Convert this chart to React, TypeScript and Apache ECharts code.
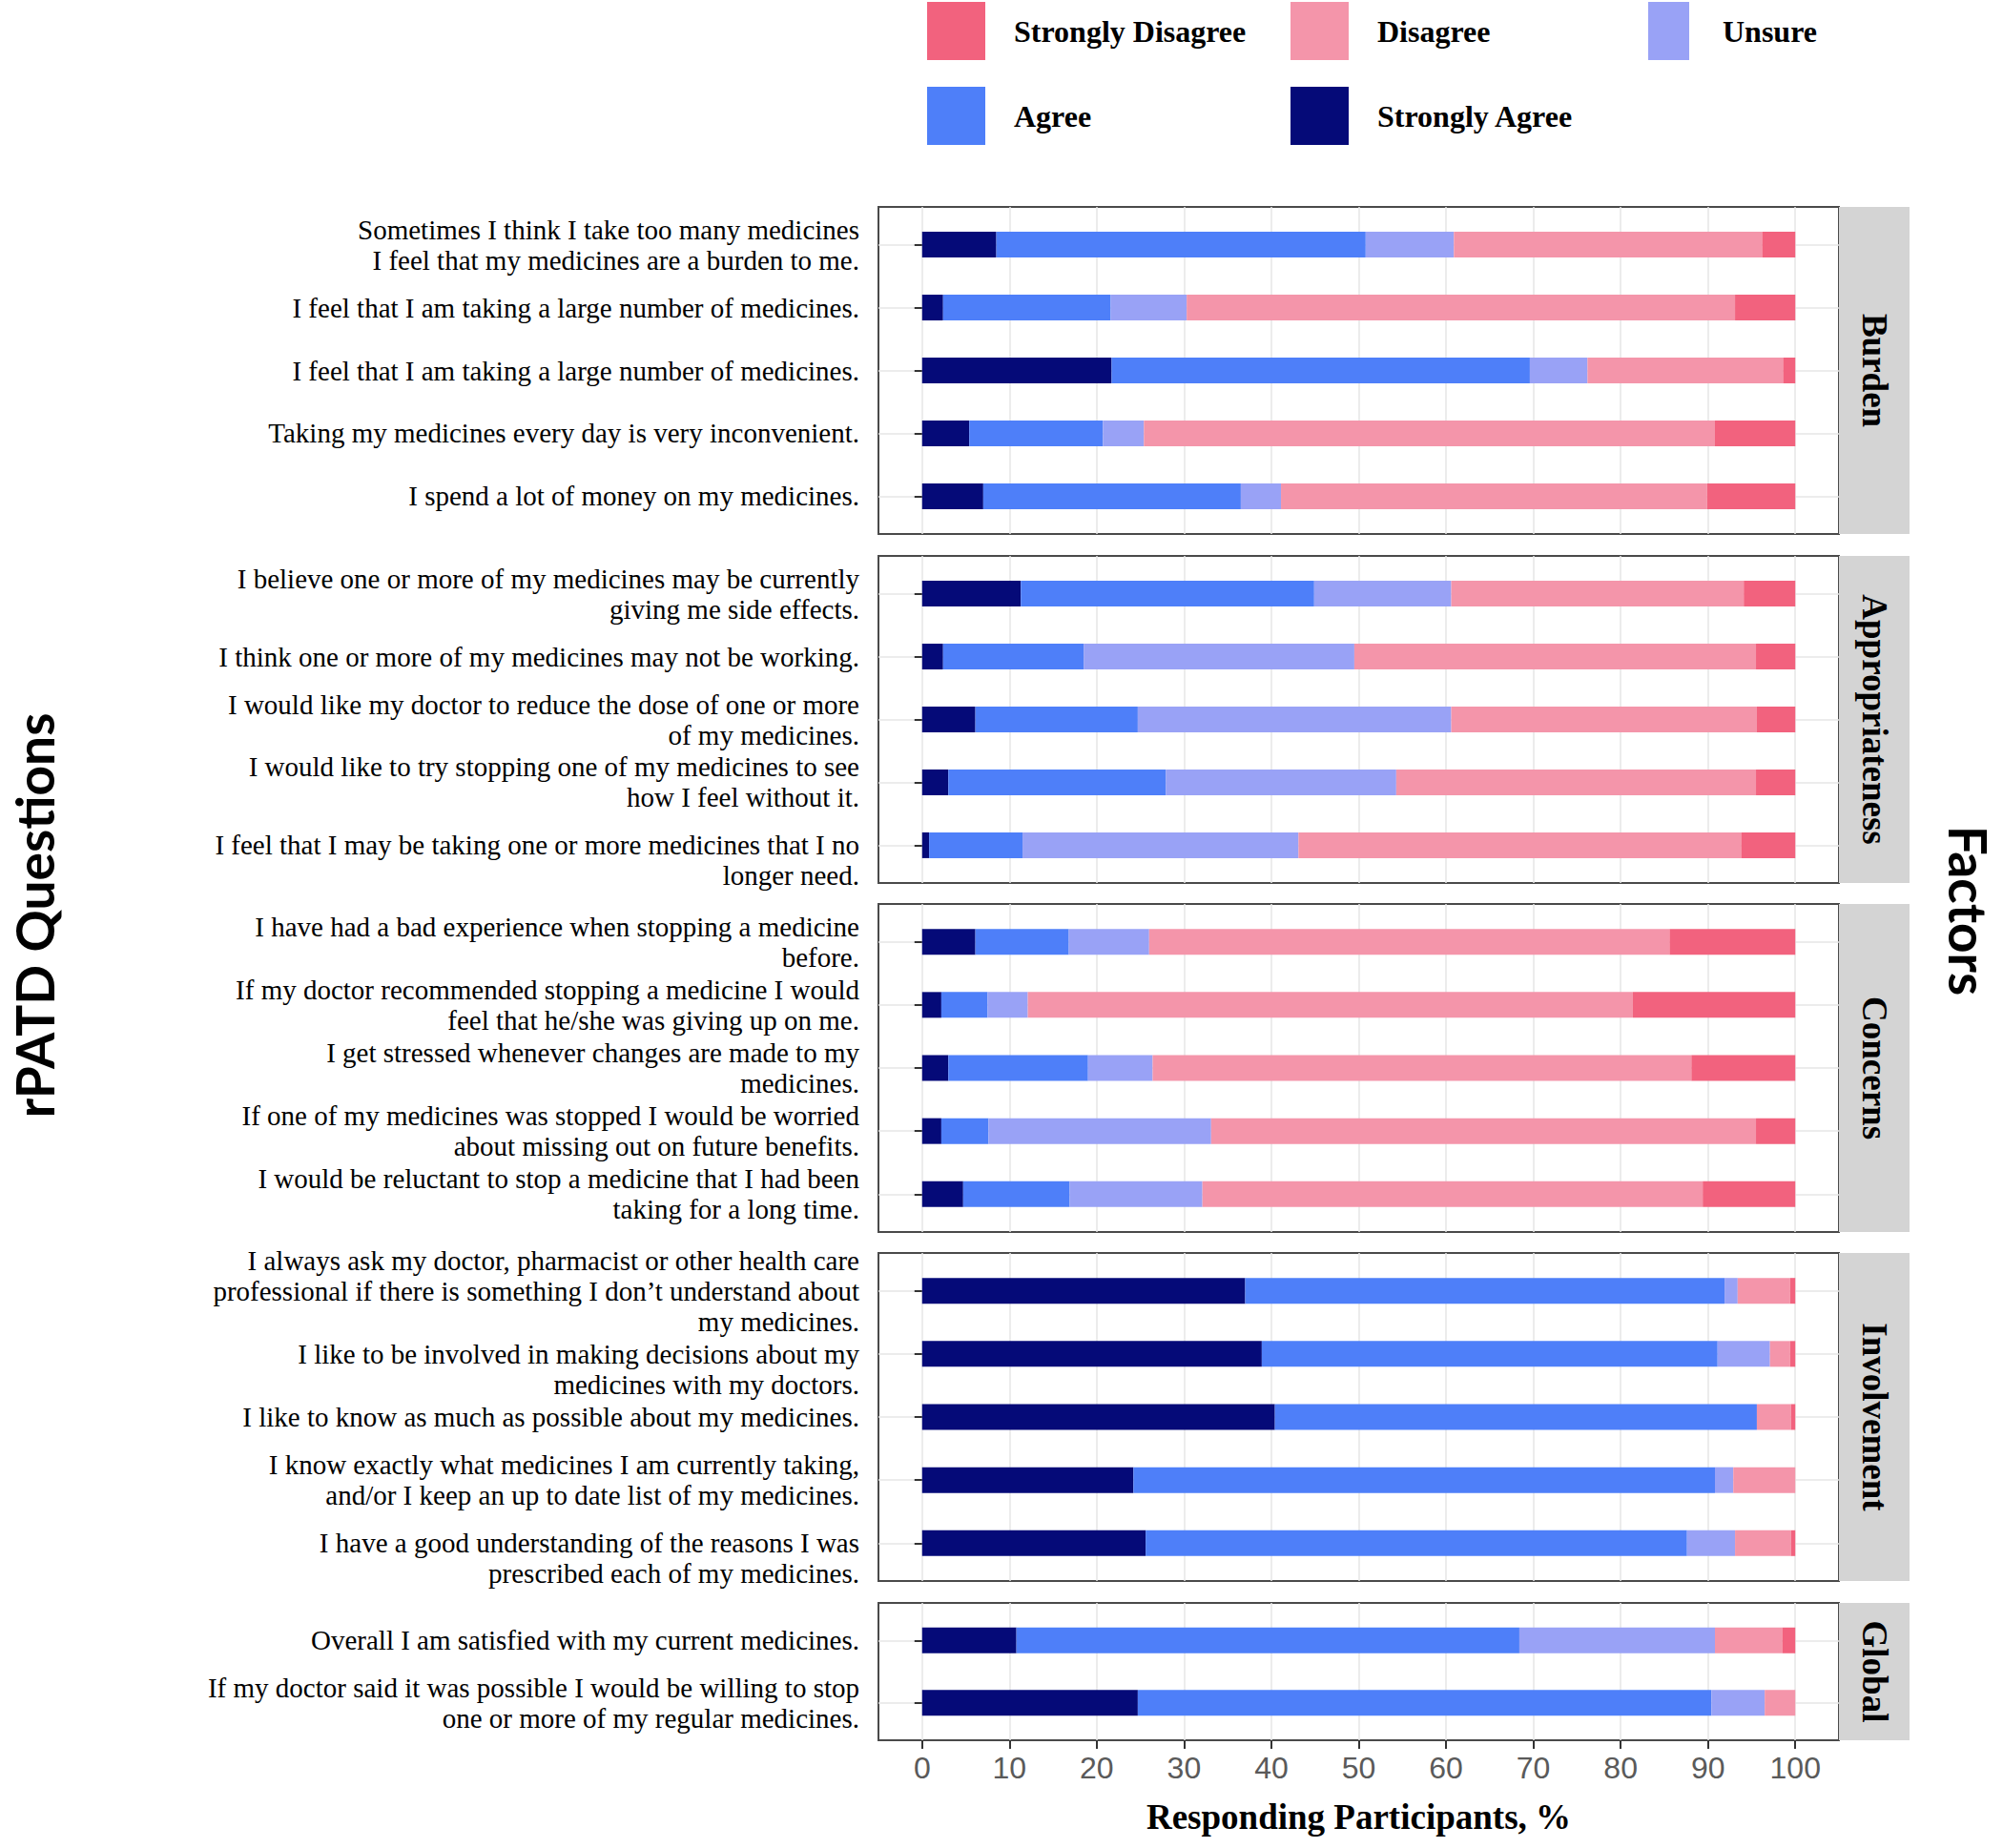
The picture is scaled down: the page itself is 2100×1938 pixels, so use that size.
import React, { useEffect, useRef } from "react";
import * as echarts from "echarts";

// ---------- categories ----------
const factorNames = ["Burden", "Appropriateness", "Concerns", "Involvement", "Global"];

const burdenQuestions = [
  "Sometimes I think I take too many medicines\nI feel that my medicines are a burden to me.",
  "I feel that I am taking a large number of medicines.",
  "I feel that I am taking a large number of medicines.",
  "Taking my medicines every day is very inconvenient.",
  "I spend a lot of money on my medicines.",
];
const appropriatenessQuestions = [
  "I believe one or more of my medicines may be currently\ngiving me side effects.",
  "I think one or more of my medicines may not be working.",
  "I would like my doctor to reduce the dose of one or more\nof my medicines.",
  "I would like to try stopping one of my medicines to see\nhow I feel without it.",
  "I feel that I may be taking one or more medicines that I no\nlonger need.",
];
const concernsQuestions = [
  "I have had a bad experience when stopping a medicine\nbefore.",
  "If my doctor recommended stopping a medicine I would\nfeel that he/she was giving up on me.",
  "I get stressed whenever changes are made to my\nmedicines.",
  "If one of my medicines was stopped I would be worried\nabout missing out on future benefits.",
  "I would be reluctant to stop a medicine that I had been\ntaking for a long time.",
];
const involvementQuestions = [
  "I always ask my doctor, pharmacist or other health care\nprofessional if there is something I don\u2019t understand about\nmy medicines.",
  "I like to be involved in making decisions about my\nmedicines with my doctors.",
  "I like to know as much as possible about my medicines.",
  "I know exactly what medicines I am currently taking,\nand/or I keep an up to date list of my medicines.",
  "I have a good understanding of the reasons I was\nprescribed each of my medicines.",
];
const globalQuestions = [
  "Overall I am satisfied with my current medicines.",
  "If my doctor said it was possible I would be willing to stop\none or more of my regular medicines.",
];
// labels that sit half a line lower than their bar in the original figure
const loweredLabels = [
  "I like to be involved in making decisions about my\nmedicines with my doctors.",
  "I have a good understanding of the reasons I was\nprescribed each of my medicines.",
  "I feel that I may be taking one or more medicines that I no\nlonger need.",
];

// ---------- series values (% of responding participants) ----------
const burdenStronglyAgree = [8.5, 2.4, 21.7, 5.4, 7.0];
const burdenAgree = [42.3, 19.2, 47.9, 15.3, 29.5];
const burdenUnsure = [10.1, 8.7, 6.6, 4.7, 4.6];
const burdenDisagree = [35.3, 62.8, 22.4, 65.4, 48.8];
const burdenStronglyDisagree = [3.8, 6.9, 1.4, 9.2, 10.1];

const appropriatenessStronglyAgree = [11.3, 2.4, 6.1, 3.0, 0.8];
const appropriatenessAgree = [33.6, 16.1, 18.6, 24.9, 10.7];
const appropriatenessUnsure = [15.7, 31.0, 35.9, 26.4, 31.6];
const appropriatenessDisagree = [33.5, 46.0, 35.0, 41.2, 50.7];
const appropriatenessStronglyDisagree = [5.9, 4.5, 4.4, 4.5, 6.2];

const concernsStronglyAgree = [6.1, 2.2, 3.0, 2.2, 4.7];
const concernsAgree = [10.7, 5.3, 16.0, 5.4, 12.2];
const concernsUnsure = [9.2, 4.6, 7.4, 25.5, 15.2];
const concernsDisagree = [59.6, 69.3, 61.7, 62.4, 57.3];
const concernsStronglyDisagree = [14.4, 18.6, 11.9, 4.5, 10.6];

const involvementStronglyAgree = [37.0, 38.9, 40.4, 24.2, 25.6];
const involvementAgree = [54.9, 52.2, 55.2, 66.6, 62.0];
const involvementUnsure = [1.5, 6.0, 0, 2.1, 5.5];
const involvementDisagree = [6.0, 2.3, 3.9, 7.1, 6.4];
const involvementStronglyDisagree = [0.6, 0.6, 0.5, 0, 0.5];

const globalStronglyAgree = [10.8, 24.7];
const globalAgree = [57.6, 65.7];
const globalUnsure = [22.4, 6.1];
const globalDisagree = [7.7, 3.5];
const globalStronglyDisagree = [1.5, 0];

// ---------- tick labels ----------
const xTicks = [0, 10, 20, 30, 40, 50, 60, 70, 80, 90, 100];

const levelNames = ["Strongly Agree", "Agree", "Unsure", "Disagree", "Strongly Disagree"];
const levelColors: Record<string, string> = {
  "Strongly Disagree": "#F2627E",
  Disagree: "#F495AA",
  Unsure: "#99A2F6",
  Agree: "#4E7FF9",
  "Strongly Agree": "#050A78",
};

const panelQuestions = [burdenQuestions, appropriatenessQuestions, concernsQuestions, involvementQuestions, globalQuestions];
const panelValues = [
  [burdenStronglyAgree, burdenAgree, burdenUnsure, burdenDisagree, burdenStronglyDisagree],
  [appropriatenessStronglyAgree, appropriatenessAgree, appropriatenessUnsure, appropriatenessDisagree, appropriatenessStronglyDisagree],
  [concernsStronglyAgree, concernsAgree, concernsUnsure, concernsDisagree, concernsStronglyDisagree],
  [involvementStronglyAgree, involvementAgree, involvementUnsure, involvementDisagree, involvementStronglyDisagree],
  [globalStronglyAgree, globalAgree, globalUnsure, globalDisagree, globalStronglyDisagree],
];

// ---------- layout ----------
const W = 2100;
const H = 1938;
const PANEL_LEFT = 921;
const PANEL_WIDTH = 1007;
const panelTops = [217, 583, 948, 1314, 1681];
const panelHeights = [343, 343, 344, 344, 144];
const STRIP_WIDTH = 74;
const DISCRETE_EXPAND = 0.6; // ggplot-like padding (in category units) on each side

const legendItems = [
  { name: "Strongly Disagree", left: 972, top: 2, w: 61 },
  { name: "Disagree", left: 1353, top: 2, w: 61 },
  { name: "Unsure", left: 1728, top: 2, w: 43 },
  { name: "Agree", left: 972, top: 91, w: 61 },
  { name: "Strongly Agree", left: 1353, top: 91, w: 61 },
];

function buildOption() {
  const n = factorNames.length;
  const last = n - 1;
  const serif = "'Liberation Serif', 'Times New Roman', serif";

  // frame grids (border + vertical grid lines) and inner bar grids
  const frameGrids = factorNames.map((_, i) => ({
    left: PANEL_LEFT,
    top: panelTops[i],
    width: PANEL_WIDTH,
    height: panelHeights[i],
    show: true,
    borderColor: "#4a4a4a",
    borderWidth: 2,
    backgroundColor: "#ffffff",
    containLabel: false,
    outerBoundsMode: "none",
  }));
  const barGrids = factorNames.map((_, i) => {
    const rows = panelQuestions[i].length;
    const unit = panelHeights[i] / (rows - 1 + 2 * DISCRETE_EXPAND);
    const inner = unit * rows;
    return {
      left: PANEL_LEFT,
      top: panelTops[i] + (panelHeights[i] - inner) / 2,
      width: PANEL_WIDTH,
      height: inner,
      show: false,
      containLabel: false,
      outerBoundsMode: "none",
    };
  });

  const frameX = factorNames.map((_, i) => ({
    type: "value",
    gridIndex: i,
    min: -5,
    max: 105,
    axisLine: { show: false },
    axisTick: {
      show: i === last,
      length: 9,
      customValues: xTicks,
      lineStyle: { color: "#333333", width: 2 },
    },
    axisLabel: {
      show: i === last,
      customValues: xTicks,
      color: "#5a5a5a",
      fontSize: 32,
      fontFamily: "'Liberation Sans', Arial, sans-serif",
      margin: 13,
    },
    splitLine: { show: true, lineStyle: { color: "#e6e6e6", width: 1.5 } },
    name: i === last ? "Responding Participants, %" : "",
    nameLocation: "middle",
    nameGap: 62,
    nameTextStyle: {
      fontFamily: serif,
      fontWeight: "bold",
      fontSize: 37,
      color: "#000000",
    },
  }));
  const barX = factorNames.map((_, i) => ({
    type: "value",
    gridIndex: n + i,
    min: -5,
    max: 105,
    show: false,
  }));

  const frameY = factorNames.map((_, i) => ({
    type: "value",
    gridIndex: i,
    min: 0,
    max: 1,
    show: false,
  }));
  const barY = factorNames.map((_, i) => ({
    type: "category",
    gridIndex: n + i,
    inverse: true,
    data: panelQuestions[i],
    axisLine: { show: false },
    axisTick: {
      show: true,
      alignWithLabel: true,
      length: 8,
      lineStyle: { color: "#333333", width: 2 },
    },
    axisLabel: {
      interval: 0,
      margin: 20,
      color: "#000000",
      fontSize: 29,
      lineHeight: 32,
      fontFamily: serif,
      align: "right",
      formatter: (v: string) => (loweredLabels.indexOf(v) >= 0 ? "\n" + v : v),
    },
    splitLine: { show: true, alignWithLabel: true, lineStyle: { color: "#e6e6e6", width: 1.5 } },
  }));

  const series: any[] = [];
  factorNames.forEach((_, i) => {
    levelNames.forEach((lvl, k) => {
      series.push({
        type: "bar",
        name: lvl,
        xAxisIndex: n + i,
        yAxisIndex: n + i,
        stack: "panel" + i,
        barWidth: 27,
        data: panelValues[i][k],
        itemStyle: { color: levelColors[lvl] },
        emphasis: { disabled: true },
      });
    });
  });

  const legend = legendItems.map((it) => ({
    data: [it.name],
    left: it.left,
    top: it.top,
    orient: "horizontal",
    icon: "rect",
    itemWidth: it.w,
    itemHeight: 61,
    padding: 0,
    selectedMode: false,
    textStyle: {
      fontFamily: serif,
      fontWeight: "bold",
      fontSize: 32,
      color: "#000000",
      padding: [0, 0, 0, it.w === 43 ? 30 : 25],
    },
  }));

  const graphic: any[] = [];
  factorNames.forEach((f, i) => {
    graphic.push({
      type: "rect",
      left: PANEL_LEFT + PANEL_WIDTH,
      top: panelTops[i],
      shape: { x: 0, y: 0, width: STRIP_WIDTH, height: panelHeights[i] },
      style: { fill: "#d4d4d4" },
      silent: true,
    });
    graphic.push({
      type: "text",
      x: PANEL_LEFT + PANEL_WIDTH + STRIP_WIDTH / 2,
      y: panelTops[i] + panelHeights[i] / 2,
      rotation: -Math.PI / 2,
      style: {
        text: f,
        fontFamily: serif,
        fontWeight: "bold",
        fontSize: 37,
        lineHeight: 40,
        fill: "#000000",
        textAlign: "center",
        textVerticalAlign: "middle",
      },
      silent: true,
    });
  });
  graphic.push({
    type: "text",
    x: 36,
    y: 960,
    rotation: Math.PI / 2,
    style: {
      text: "rPATD Questions",
      fontFamily: "Lato, 'Open Sans', sans-serif",
      fontWeight: "bold",
      fontSize: 55,
      lineHeight: 54,
      fill: "#000000",
      textAlign: "center",
      textVerticalAlign: "middle",
    },
    silent: true,
  });
  graphic.push({
    type: "text",
    x: 2064,
    y: 955,
    rotation: -Math.PI / 2,
    style: {
      text: "Factors",
      fontFamily: "Lato, 'Open Sans', sans-serif",
      fontWeight: "bold",
      fontSize: 55,
      lineHeight: 54,
      fill: "#000000",
      textAlign: "center",
      textVerticalAlign: "middle",
    },
    silent: true,
  });

  return {
    animation: false,
    backgroundColor: "#ffffff",
    grid: [...frameGrids, ...barGrids],
    xAxis: [...frameX, ...barX],
    yAxis: [...frameY, ...barY],
    legend,
    series,
    graphic,
  };
}

export default function App() {
  const ref = useRef<HTMLDivElement>(null);
  useEffect(() => {
    if (!ref.current) return;
    const chart = echarts.init(ref.current, undefined, { renderer: "svg", width: W, height: H });
    chart.setOption(buildOption() as any);
    return () => chart.dispose();
  }, []);
  return (
    <div
      ref={ref}
      style={{ position: "absolute", left: 0, top: 0, width: W, height: H, background: "#fff" }}
    />
  );
}
